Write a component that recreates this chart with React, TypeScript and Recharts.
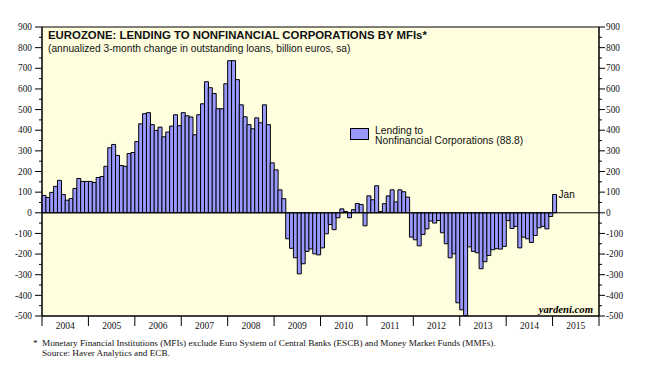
import React from 'react';
import { BarChart, Bar, XAxis, YAxis, ReferenceLine, ReferenceArea, CartesianGrid, LabelList } from 'recharts';

const YEARS = ['2004', '2005', '2006', '2007', '2008', '2009', '2010', '2011', '2012', '2013', '2014', '2015'];
const MONTHS = ['Jan', 'Feb', 'Mar', 'Apr', 'May', 'Jun', 'Jul', 'Aug', 'Sep', 'Oct', 'Nov', 'Dec'];

const LENDING_2004 = [84, 74, 99, 128, 157, 89, 61, 69, 118, 166, 152, 152];
const LENDING_2005 = [152, 147, 171, 176, 225, 315, 331, 278, 229, 225, 287, 292];
const LENDING_2006 = [345, 431, 480, 485, 427, 399, 415, 368, 391, 420, 475, 422];
const LENDING_2007 = [485, 470, 464, 378, 475, 528, 635, 606, 578, 504, 504, 625];
const LENDING_2008 = [737, 737, 645, 523, 465, 427, 407, 460, 436, 523, 427, 242];
const LENDING_2009 = [208, 111, 68, -126, -172, -218, -296, -247, -187, -175, -199, -204];
const LENDING_2010 = [-170, -102, -57, -82, -24, 19, 6, -24, 15, 45, 40, -63];
const LENDING_2011 = [82, 63, 131, 6, 44, 82, 111, 53, 111, 102, 76, -118];
const LENDING_2012 = [-131, -160, -105, -78, -40, -50, -37, -97, -150, -218, -199, -436];
const LENDING_2013 = [-470, -498, -165, -187, -194, -271, -237, -207, -179, -174, -176, -163];
const LENDING_2014 = [-38, -76, -66, -170, -118, -126, -144, -110, -73, -66, -78, -18];
const LENDING_2015 = [88.8];

const LENDING_BY_YEAR = [
  LENDING_2004, LENDING_2005, LENDING_2006, LENDING_2007, LENDING_2008, LENDING_2009,
  LENDING_2010, LENDING_2011, LENDING_2012, LENDING_2013, LENDING_2014, LENDING_2015,
];

const MAJOR_TICKS = [-500, -400, -300, -200, -100, 0, 100, 200, 300, 400, 500, 600, 700, 800, 900];
const MINOR_TICKS = [-450, -350, -250, -150, -50, 50, 150, 250, 350, 450, 550, 650, 750, 850];
const ALL_TICKS = [...MAJOR_TICKS, ...MINOR_TICKS].sort((a, b) => a - b);

const TITLE = 'EUROZONE: LENDING TO NONFINANCIAL CORPORATIONS BY MFIs*';
const SUBTITLE = '(annualized 3-month change in outstanding loans, billion euros, sa)';
const SERIES_LINES = ['Lending to', 'Nonfinancial Corporations'];
const FOOTNOTE = 'Monetary Financial Institutions (MFIs) exclude Euro System of Central Banks (ESCB) and Money Market Funds (MMFs).';
const SOURCE = 'Source: Haver Analytics and ECB.';
const BRAND = 'yardeni.com';

type Row = { key: string; year: string; month: string; value: number | null };
const data: Row[] = YEARS.flatMap((year, yi) =>
  MONTHS.map((month, mi) => {
    const v = LENDING_BY_YEAR[yi][mi];
    return { key: `${year}-${month}`, year, month, value: v === undefined ? null : v };
  })
);
const lastIndex = data.reduce((acc, d, i) => (d.value !== null ? i : acc), -1);
const latest = data[lastIndex];

const W = 654;
const H = 375;
const YL_W = 42;
const YR_W = 55;
const XA_H = 20;
const MARGIN = { top: 27, right: 0, bottom: 39, left: 0 };
const PLOT_W = W - YL_W - YR_W;
const BW = PLOT_W / data.length;

const SERIF = '"Liberation Serif", "Times New Roman", serif';
const SANS = '"Liberation Sans", Arial, sans-serif';
const BAR_FILL = '#9999FF';
const BG = '#FFFFDF';

const XTick = (props: any) => {
  const { x, y, payload } = props;
  const left = x - BW / 2;
  const year = String(payload.value).split('-')[0];
  const isLast = year === YEARS[YEARS.length - 1];
  const span = MONTHS.length * BW;
  return (
    <g>
      <line x1={left} x2={left} y1={y} y2={y + 10} stroke="#000" strokeWidth={1} />
      {isLast && <line x1={left + span} x2={left + span} y1={y} y2={y + 10} stroke="#000" strokeWidth={1} />}
      <text x={left + span / 2} y={y + 13} textAnchor="middle" fontFamily={SERIF} fontSize={9.5} fill="#111">
        {year}
      </text>
    </g>
  );
};

const YTickLeft = (props: any) => {
  const { x, y, payload } = props;
  const major = MAJOR_TICKS.includes(payload.value);
  return (
    <g>
      <line x1={x - (major ? 7 : 3)} x2={x} y1={y} y2={y} stroke="#000" strokeWidth={1} />
      {major && (
        <text x={x - 10} y={y} dy={3.2} textAnchor="end" fontFamily={SERIF} fontSize={9.3} fill="#111">
          {payload.value}
        </text>
      )}
    </g>
  );
};

const YTickRight = (props: any) => {
  const { x, y, payload } = props;
  const major = MAJOR_TICKS.includes(payload.value);
  return (
    <g>
      <line x1={x} x2={x + (major ? 6 : 3)} y1={y} y2={y} stroke="#000" strokeWidth={1} />
      {major && (
        <text x={x + 7} y={y} dy={3.2} textAnchor="start" fontFamily={SERIF} fontSize={9.3} fill="#111">
          {payload.value}
        </text>
      )}
    </g>
  );
};

const LastLabel = (props: any) => {
  const { x, y, width, index } = props;
  if (index !== lastIndex) return null;
  return (
    <text x={x + width + 2} y={y} dy={4} fontFamily={SANS} fontSize={10} fill="#000">
      {data[index].month}
    </text>
  );
};

export default function App() {
  return (
    <div style={{ position: 'absolute', left: 0, top: 0, width: W, height: H, background: '#fff' }}>
      <BarChart width={W} height={H} data={data} margin={MARGIN} barCategoryGap={0} barGap={0}>
        <CartesianGrid horizontal={false} vertical={false} fill={BG} fillOpacity={1} yAxisId="left" />
        <XAxis
          dataKey="key"
          ticks={YEARS.map((y) => `${y}-${MONTHS[0]}`)}
          interval={0}
          tick={<XTick />}
          tickLine={false}
          tickSize={0}
          tickMargin={0}
          axisLine={{ stroke: '#000' }}
          height={XA_H}
        />
        <YAxis
          yAxisId="left"
          domain={[-500, 900]}
          ticks={ALL_TICKS}
          interval={0}
          tick={<YTickLeft />}
          tickLine={false}
          tickSize={0}
          tickMargin={0}
          axisLine={{ stroke: '#000' }}
          width={YL_W}
          allowDataOverflow
        />
        <YAxis
          yAxisId="right"
          orientation="right"
          domain={[-500, 900]}
          ticks={ALL_TICKS}
          interval={0}
          tick={<YTickRight />}
          tickLine={false}
          tickSize={0}
          tickMargin={0}
          axisLine={{ stroke: '#000' }}
          width={YR_W}
          allowDataOverflow
        />
        <Bar
          yAxisId="left"
          dataKey="value"
          fill={BAR_FILL}
          stroke="#000"
          strokeWidth={1}
          isAnimationActive={false}
        >
          <LabelList dataKey="value" content={<LastLabel />} />
        </Bar>
        <ReferenceLine yAxisId="left" y={0} stroke="#000" strokeWidth={1} />
        <ReferenceArea yAxisId="left" y1={-500} y2={900} fill="none" stroke="#000" strokeWidth={1} ifOverflow="visible" />
      </BarChart>

      <div style={{ position: 'absolute', left: 48, top: 29, font: `bold 11.4px/13px ${SANS}`, color: '#111', whiteSpace: 'nowrap' }}>
        {TITLE}
      </div>
      <div style={{ position: 'absolute', left: 48, top: 42, font: `10.2px/13px ${SANS}`, color: '#111', whiteSpace: 'nowrap' }}>
        {SUBTITLE}
      </div>

      <div style={{ position: 'absolute', left: 350, top: 127.5, width: 19, height: 12, background: BAR_FILL, border: '1px solid #000', boxSizing: 'border-box' }} />
      <div style={{ position: 'absolute', left: 375, top: 126, font: `10.3px/10px ${SANS}`, color: '#111', whiteSpace: 'nowrap' }}>
        <div>{SERIES_LINES[0]}</div>
        <div>{`${SERIES_LINES[1]} (${latest.value?.toFixed(1)})`}</div>
      </div>

      <div style={{ position: 'absolute', right: W - 593, top: 303, font: `italic bold 10.7px/12px ${SERIF}`, color: '#000', whiteSpace: 'nowrap' }}>
        {BRAND}
      </div>

      <div style={{ position: 'absolute', left: 33, top: 338, font: `9.2px/10px ${SERIF}`, color: '#111', whiteSpace: 'nowrap' }}>*</div>
      <div style={{ position: 'absolute', left: 42, top: 338, font: `9.2px/10px ${SERIF}`, color: '#111', whiteSpace: 'nowrap' }}>
        <div>{FOOTNOTE}</div>
        <div>{SOURCE}</div>
      </div>
    </div>
  );
}
